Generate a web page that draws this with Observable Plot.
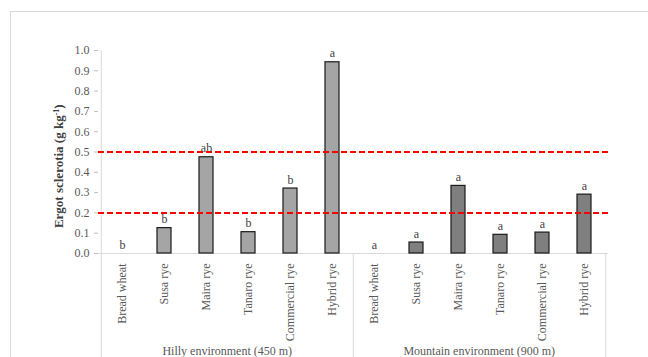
<!DOCTYPE html>
<html>
<head>
<meta charset="utf-8">
<script src="https://cdn.jsdelivr.net/npm/d3@7"></script>
<script src="https://cdn.jsdelivr.net/npm/@observablehq/plot@0.6"></script>
<style>
  html, body { margin: 0; padding: 0; background: white; overflow: hidden; }
  #wrap { position: relative; width: 648px; height: 357px; background: white; }
  #frame { position: absolute; left: 10px; top: 11px; width: 700px; height: 400px; border: 1px solid #d9d9d9; pointer-events: none; }
  #chart { position: absolute; left: 0; top: 0; }
</style>
</head>
<body>
<div id="wrap"><div id="chart"></div><div id="frame"></div></div>
<script>
const cultivars = ["Bread wheat", "Susa rye", "Maira rye", "Tanaro rye", "Commercial rye", "Hybrid rye"];
const environments = ["Hilly environment (450 m)", "Mountain environment (900 m)"];
const hillyValues = [0, 0.125, 0.474, 0.105, 0.32, 0.942];
const mountainValues = [0, 0.054, 0.333, 0.092, 0.103, 0.29];
const hillyLetters = ["b", "b", "ab", "b", "b", "a"];
const mountainLetters = ["a", "a", "a", "a", "a", "a"];
const thresholds = [0.2, 0.5];
const yTicks = [0, 0.1, 0.2, 0.3, 0.4, 0.5, 0.6, 0.7, 0.8, 0.9, 1.0];
const yLabel = "Ergot sclerotia (g kg-1)";

const envKeys = ["H", "M"];
const keyOf = (e, c) => envKeys[e] + "|" + c;
const keys = [];
envKeys.forEach((_, e) => cultivars.forEach(c => keys.push(keyOf(e, c))));

const hilly = cultivars.map((c, i) => ({key: keyOf(0, c), value: hillyValues[i], letter: hillyLetters[i]}));
const mountain = cultivars.map((c, i) => ({key: keyOf(1, c), value: mountainValues[i], letter: mountainLetters[i]}));
const groupLabels = environments.map((t, e) => ({key: keyOf(e, cultivars[3]), text: t}));
const groupStarts = envKeys.map((_, e) => keyOf(e, cultivars[0]));

const width = 648, height = 357;
const mL = 98, mR = 40, mT = 50, mB = 104;
const step = (width - mL - mR) / keys.length;
const grid = "#d9d9d9";
const fs = 12;

const svg = Plot.plot({
  width, height,
  marginLeft: mL, marginRight: mR, marginTop: mT, marginBottom: mB,
  style: {fontFamily: "'Liberation Serif', 'Times New Roman', serif", fontSize: "12px", color: "#595959", background: "transparent", overflow: "visible"},
  x: {type: "band", domain: keys, paddingInner: 0.67, paddingOuter: 0.335},
  y: {domain: [0, 1]},
  marks: [
    Plot.axisY(yTicks, {tickFormat: d => d.toFixed(1), tickSize: 4, tickPadding: 5, stroke: "#bfbfbf", label: null, fontSize: fs, fill: "#595959"}),
    Plot.axisX({tickRotate: -90, tickSize: 0, tickPadding: 10, tickFormat: d => d.split("|")[1], label: null, fontSize: fs, fill: "#595959"}),
    Plot.ruleX([keys[0]], {y1: 0, y2: 1, dx: -step / 2, stroke: grid}),
    Plot.ruleX(groupStarts, {x: d => d, y1: 0, y2: -0.53, dx: -step / 2, stroke: grid}),
    Plot.ruleX([keys[keys.length - 1]], {x: d => d, y1: 0, y2: -0.53, dx: step / 2, stroke: grid}),
    Plot.ruleY([0], {stroke: grid}),
    Plot.barY(hilly, {x: "key", y: "value", fill: "#a5a5a5", stroke: "#1a1a1a", strokeWidth: 1.2}),
    Plot.barY(mountain, {x: "key", y: "value", fill: "#7f7f7f", stroke: "#1a1a1a", strokeWidth: 1.2}),
    Plot.text(hilly.concat(mountain), {x: "key", y: "value", text: "letter", lineAnchor: "bottom", dy: -5, fill: "#404040", fontSize: fs}),
    Plot.ruleY(thresholds, {stroke: "#ff0000", strokeWidth: 2, strokeDasharray: "6,3"}),
    Plot.text(groupLabels, {x: "key", y: -0.48, dx: -step / 2, text: "text", fill: "#595959", fontSize: fs}),
    Plot.text([yLabel], {frameAnchor: "left", y: 0.43, dx: -40, rotate: -90, text: d => d, textAnchor: "middle", fontWeight: "bold", fill: "#404040", fontSize: 13})
  ]
});

document.getElementById("chart").appendChild(svg);

// superscript for the unit in the y label
d3.select(svg).selectAll("text").filter(function() { return this.textContent === yLabel; }).each(function() {
  const t = d3.select(this);
  t.text(null);
  t.append("tspan").text("Ergot sclerotia (g kg");
  t.append("tspan").attr("baseline-shift", "super").attr("font-size", "8").text("-1");
  t.append("tspan").text(")");
});
</script>
</body>
</html>
